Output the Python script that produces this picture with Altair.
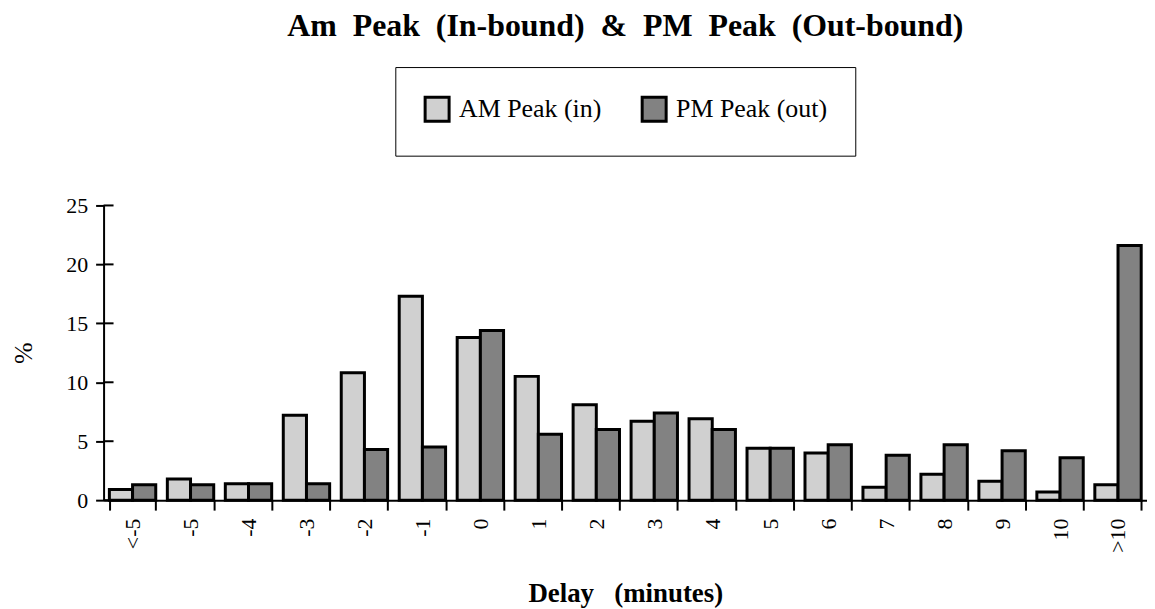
import altair as alt
import pandas as pd

categories = ["<-5", "-5", "-4", "-3", "-2", "-1", "0", "1", "2", "3",
              "4", "5", "6", "7", "8", "9", "10", ">10"]
am_peak = [0.9, 1.8, 1.4, 7.2, 10.8, 17.3, 13.8, 10.5, 8.1, 6.7,
           6.9, 4.4, 4.0, 1.1, 2.2, 1.6, 0.7, 1.3]
pm_peak = [1.3, 1.3, 1.4, 1.4, 4.3, 4.5, 14.4, 5.6, 6.0, 7.4,
           6.0, 4.4, 4.7, 3.8, 4.7, 4.2, 3.6, 21.6]
series_names = ["AM Peak (in)", "PM Peak (out)"]
y_ticks = [0, 5, 10, 15, 20, 25]
title_words = ["Am", "Peak", "(In-bound)", "&", "PM", "Peak", "(Out-bound)"]

rows = []
for c, a, p in zip(categories, am_peak, pm_peak):
    rows.append({"delay": c, "series": series_names[0], "pct": a})
    rows.append({"delay": c, "series": series_names[1], "pct": p})
df = pd.DataFrame(rows)
tick_df = pd.DataFrame({"pct": y_ticks})

SERIF = "Liberation Serif"

y_scale = alt.Scale(domain=[0, 25], padding=0, nice=False, zero=True)

y_enc = alt.Y("pct:Q", scale=y_scale,
              axis=alt.Axis(title="%", values=y_ticks, grid=False,
                            tickSize=8, tickWidth=2, tickColor="black",
                            domainColor="black", domainWidth=2,
                            labelFont=SERIF, labelFontSize=22, labelColor="black",
                            labelPadding=8,
                            titleFont=SERIF, titleFontSize=26, titleFontWeight="normal",
                            titleColor="black", titlePadding=29))

bars = alt.Chart(df).mark_bar(stroke="black", strokeWidth=3).encode(
    x=alt.X("delay:N", sort=categories,
            scale=alt.Scale(paddingInner=0.2, paddingOuter=0.1),
            axis=alt.Axis(title="Delay\u00a0\u00a0\u00a0(minutes)", labelAngle=-90,
                          tickBand="extent", tickSize=10, tickWidth=2, grid=False,
                          tickColor="black", domainColor="black", domainWidth=2,
                          labelFont=SERIF, labelFontSize=22, labelColor="black",
                          labelPadding=8,
                          titleFont=SERIF, titleFontSize=27, titleFontWeight="bold",
                          titleColor="black", titlePadding=28)),
    xOffset=alt.XOffset("series:N", sort=series_names,
                        scale=alt.Scale(paddingInner=0, paddingOuter=0)),
    y=y_enc,
    fill=alt.Fill("series:N", sort=series_names,
                  scale=alt.Scale(domain=series_names, range=["#d0d0d0", "#828282"]),
                  legend=alt.Legend(title=None, orient="none", legendX=293, legendY=-139,
                                    direction="horizontal", symbolType="square",
                                    symbolSize=580, symbolStrokeColor="black",
                                    symbolStrokeWidth=3, labelFont=SERIF,
                                    labelFontSize=26, labelColor="black",
                                    labelOffset=8, columnPadding=34,
                                    strokeColor="black",
                                    padding=28)),
)

inner_ticks = alt.Chart(tick_df).mark_rule(color="black", strokeWidth=2).encode(
    y=alt.Y("pct:Q", scale=y_scale),
    x=alt.value(0),
    x2=alt.value(10),
)

chart = alt.layer(bars, inner_ticks).properties(
    width=1048,
    height=296,
    background="white",
    title=alt.TitleParams("\u00a0\u00a0".join(title_words),
                          font=SERIF, fontSize=32, fontWeight="bold",
                          color="black", anchor="middle", offset=24),
    padding={"left": 3, "top": 0, "right": 0, "bottom": 0},
).configure_view(strokeWidth=0).configure_axis(grid=False)

chart.save("out.html", embed_options={"renderer": "svg", "actions": False})
